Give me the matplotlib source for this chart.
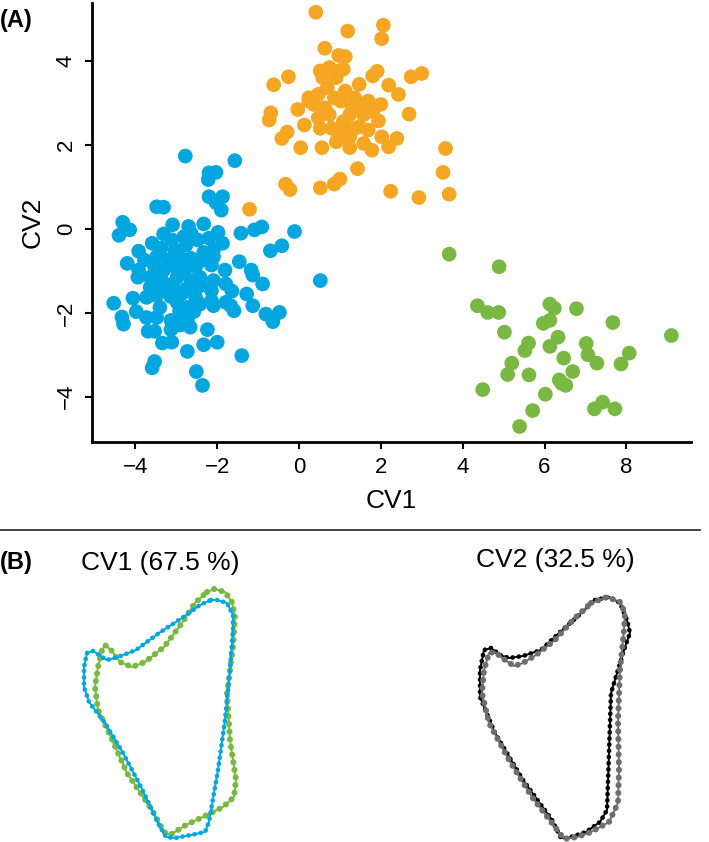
import numpy as np
import matplotlib
matplotlib.use("Agg")
import matplotlib.pyplot as plt
from matplotlib.lines import Line2D

plt.rcParams['font.family'] = ['Liberation Sans', 'DejaVu Sans']

# canonical variate scores (CV1, CV2)
blue_pts = [
    (-2.78, 1.74), (-1.57, 1.63), (-2.2, 1.34), (-2.03, 1.35), (-2.22, 1.18),
    (-2.2, 0.77), (-1.87, 0.77), (-2.03, 0.63), (-1.9, 0.45), (-3.48, 0.53),
    (-3.31, 0.52), (-4.31, 0.16), (-4.14, -0.02), (-4.4, -0.15), (-3.09, 0.1),
    (-2.7, 0.06), (-2.33, 0.12), (-1.98, -0.08), (-1.42, -0.1), (-1.09, -0.02),
    (-0.91, 0.05), (-0.11, -0.06), (-0.7, -0.52), (-0.42, -0.4), (-1.87, -0.34),
    (-3.92, -0.53), (-3.59, -0.34), (-3.31, -0.12), (-3.11, -0.26), (-2.81, -0.18),
    (-2.64, -0.1), (-2.48, -0.26), (-2.33, -0.56), (-2.09, -0.5), (-4.2, -0.82),
    (-3.78, -0.74), (-3.48, -0.66), (-3.2, -0.74), (-2.92, -0.66), (-2.64, -0.7),
    (-2.37, -0.74), (-2.14, -0.86), (-1.81, -0.98), (-1.46, -0.78), (-1.17, -0.98),
    (-1.13, -1.1), (-0.89, -1.31), (-3.94, -1.15), (-3.64, -1.15), (-3.37, -1.19),
    (-3.09, -1.31), (-2.81, -0.98), (-2.64, -1.23), (-2.42, -1.15), (-2.09, -1.23),
    (-1.79, -1.31), (-1.64, -1.48), (-2.14, -1.47), (-4.53, -1.77), (-4.06, -1.65),
    (-3.73, -1.63), (-3.48, -1.59), (-3.14, -1.61), (-2.87, -1.55), (-2.53, -1.47),
    (-2.14, -1.71), (-2.09, -1.83), (-1.79, -1.75), (-1.67, -1.83), (-1.59, -1.95),
    (-1.28, -1.55), (-1.13, -1.83), (-3.98, -1.97), (-3.73, -2.11), (-3.4, -1.87),
    (-2.73, -1.87), (-2.57, -1.97), (-2.87, -2.07), (-4.33, -2.1), (-4.29, -2.27),
    (-3.13, -2.18), (-2.73, -2.19), (-2.9, -2.29), (-2.66, -2.34), (-0.81, -2.03),
    (-0.64, -2.21), (-0.48, -1.99), (-3.69, -2.44), (-3.53, -2.44), (-3.13, -2.4),
    (-2.24, -2.4), (-3.34, -2.72), (-3.11, -2.7), (-2.33, -2.76), (-2.0, -2.7),
    (-2.73, -2.92), (-1.4, -3.02), (-3.53, -3.16), (-3.59, -3.31), (-2.51, -3.4),
    (-2.36, -3.73), (0.52, -1.23),
    (-3.53, -0.9), (-3.31, -0.98), (-3.03, -0.9), (-2.76, -0.82), (-2.53, -0.9),
    (-2.98, -1.15), (-3.31, -1.39), (-2.76, -1.43), (-2.42, -1.35), (-2.98, -1.75),
    (-3.64, -1.39), (-3.92, -0.98), (-3.03, -0.5), (-2.76, -0.38), (-2.2, -0.22),
    (-3.37, -0.46), (-2.09, -0.66), (-2.53, -1.63), (-2.42, -1.79), (-2.92, -1.95),
    (-3.48, -2.11),
]

orange_pts = [
    (0.41, 5.17), (1.19, 4.72), (2.06, 4.86), (2.02, 4.54), (0.63, 4.31),
    (0.97, 4.14), (1.13, 4.11), (0.52, 3.77), (0.74, 3.85), (0.97, 3.77),
    (1.08, 3.81), (0.58, 3.61), (0.91, 3.61), (1.8, 3.65), (1.91, 3.76),
    (2.74, 3.63), (3.0, 3.71), (-0.62, 3.44), (-0.26, 3.63), (1.47, 3.45),
    (2.19, 3.43), (2.43, 3.21), (0.24, 3.13), (0.47, 3.21), (0.86, 3.13),
    (1.13, 3.29), (1.36, 3.13), (1.58, 2.97), (2.0, 2.97), (-0.03, 2.85),
    (0.36, 2.97), (0.63, 2.89), (0.74, 2.73), (1.3, 2.89), (1.58, 2.73),
    (-0.69, 2.77), (-0.73, 2.6), (2.69, 2.74), (0.13, 2.48), (0.52, 2.4),
    (1.08, 2.56), (1.47, 2.44), (1.94, 2.58), (-0.29, 2.31), (-0.42, 2.16),
    (0.97, 2.16), (1.24, 2.2), (1.69, 2.36), (2.02, 2.2), (2.39, 2.16),
    (0.04, 1.94), (0.56, 1.94), (0.91, 2.08), (1.24, 1.94), (1.58, 2.04),
    (1.78, 1.88), (2.19, 1.96), (3.58, 1.92), (1.43, 1.44), (3.52, 1.35),
    (-0.33, 1.07), (-0.22, 0.94), (0.52, 0.98), (0.86, 1.07), (1.0, 1.19),
    (2.24, 0.9), (2.93, 0.75), (3.67, 0.83), (-1.21, 0.47),
    (0.69, 3.37), (1.02, 3.05), (1.24, 2.73), (0.47, 2.65), (1.36, 2.4),
    (1.8, 2.81), (1.69, 3.05), (1.13, 2.32), (0.24, 3.05), (0.8, 2.4),
]

green_pts = [
    (3.67, -0.6), (4.89, -0.9), (4.36, -1.83), (4.61, -1.99), (4.88, -1.99),
    (6.13, -1.79), (6.24, -1.89), (6.78, -1.9), (7.67, -2.23), (9.1, -2.54),
    (5.02, -2.46), (5.97, -2.25), (6.13, -2.18), (6.33, -2.58), (6.13, -2.8),
    (5.61, -2.72), (5.52, -2.9), (7.02, -2.73), (7.06, -3.0), (7.28, -3.2),
    (8.07, -2.96), (7.87, -3.22), (6.47, -3.08), (5.2, -3.2), (5.1, -3.47),
    (5.62, -3.48), (6.69, -3.4), (6.36, -3.6), (6.52, -3.73), (4.49, -3.83),
    (6.02, -3.94), (7.42, -4.13), (7.22, -4.29), (7.72, -4.29), (5.71, -4.33),
    (5.39, -4.71), (6.42, -3.68),
]

# shape outlines at the extremes of each CV (outline units, y down)
cv1_neg = [
    (211, 600), (217, 600), (227, 603), (233, 615), (233, 630), (230, 670),
    (225, 720), (218, 770), (211, 810), (209, 822), (205, 832), (191, 835),
    (175, 838), (166, 837), (159, 825), (141, 787), (123, 753), (105, 723),
    (89, 702), (84, 687), (84, 667), (87, 653), (93, 651), (99, 655),
    (107, 660), (118, 657), (136, 650), (159, 633), (182, 618), (200, 605),
    (211, 600),
]
cv1_pos = [
    (207, 592), (214, 589), (225, 592), (232, 602), (235, 617), (233, 647),
    (227, 693), (230, 740), (236, 780), (234, 797), (223, 807), (207, 815),
    (186, 825), (170, 835), (164, 832), (152, 810), (127, 773), (109, 733),
    (98, 710), (95, 687), (98, 667), (102, 650), (105, 645), (111, 650),
    (120, 662), (132, 667), (145, 662), (164, 647), (182, 623), (195, 603),
    (207, 592),
]
cv2_neg = [
    (595, 600), (609, 597), (620, 603), (627, 620), (630, 633), (625, 647),
    (611, 693), (609, 753), (607, 810), (600, 822), (586, 832), (568, 838),
    (561, 838), (552, 820), (523, 780), (495, 733), (480, 697), (480, 670),
    (484, 650), (491, 648), (500, 655), (509, 658), (523, 656), (541, 650),
    (559, 633), (577, 617), (595, 600),
]
cv2_pos = [
    (591, 603), (607, 597), (620, 602), (625, 613), (624, 630), (620, 670),
    (618, 720), (619, 770), (618, 803), (609, 822), (591, 832), (577, 837),
    (564, 839), (555, 827), (532, 797), (509, 760), (489, 723), (482, 693),
    (484, 670), (489, 653), (495, 652), (505, 660), (514, 666), (523, 663),
    (536, 655), (555, 640), (573, 620), (591, 603),
]

x_ticks = [-4, -2, 0, 2, 4, 6, 8]
y_ticks = [-4, -2, 0, 2, 4]

BLUE = "#00a6df"
ORANGE = "#f5a623"
GREEN = "#78b843"
GREY = "#6e6e6e"

W, H = 709, 842
fig = plt.figure(figsize=(W / 100, H / 100), dpi=100)

# --- panel A -------------------------------------------------------------
ax = fig.add_axes([92 / W, 1 - 442 / H, (691 - 92) / W, (442 - 3) / H])
for pts, col in ((blue_pts, BLUE), (orange_pts, ORANGE), (green_pts, GREEN)):
    arr = np.array(pts)
    ax.scatter(arr[:, 0], arr[:, 1], s=112, color=col, edgecolors="none", zorder=3)

ax.set_xlim(-5.06, 9.58)
ax.set_ylim(-5.08, 5.39)
ax.set_xticks(x_ticks)
ax.set_yticks(y_ticks)
ax.spines[["top", "right"]].set_visible(False)
for s in ("left", "bottom"):
    ax.spines[s].set_linewidth(2)
ax.tick_params(direction="out", length=5, width=1.5, labelsize=16, pad=6)
ax.tick_params(axis="y", labelrotation=90)
for lab in ax.get_yticklabels():
    lab.set_va("center")
ax.set_xlabel("CV1", fontsize=19, labelpad=8)
ax.set_ylabel("CV2", fontsize=19, labelpad=8)

fig.text(0.0, 1 - 20 / H, "(A)", fontsize=17, fontweight="bold", va="center", ha="left")

# separator
fig.add_artist(Line2D([0, 700 / W], [1 - 530 / H] * 2, color="#333333", lw=1.3))

# --- panel B -------------------------------------------------------------
axb = fig.add_axes([0, 0, 1, 1 - 530 / H])
axb.set_xlim(0, W)
axb.set_ylim(H, 530)
axb.axis("off")


def outline(pts, col, lw, gap):
    arr = np.array(pts)
    axb.plot(arr[:, 0], arr[:, 1], color=col, lw=1.4, solid_joinstyle="round")
    axb.plot(arr[:, 0], arr[:, 1], color=col, lw=lw,
             linestyle=(0, (0.01, gap)), dash_capstyle="round")


outline(cv1_pos, GREEN, 4.4, 1.25)
outline(cv1_neg, BLUE, 3.4, 1.3)
outline(cv2_neg, "black", 3.4, 1.3)
outline(cv2_pos, GREY, 4.4, 1.25)

fig.text(0.0, 1 - 563 / H, "(B)", fontsize=17, fontweight="bold", va="center", ha="left")
fig.text(160 / W, 1 - 563 / H, "CV1 (67.5 %)", fontsize=19, va="center", ha="center")
fig.text(555 / W, 1 - 560 / H, "CV2 (32.5 %)", fontsize=19, va="center", ha="center")

fig.savefig("out.png", dpi=100)
